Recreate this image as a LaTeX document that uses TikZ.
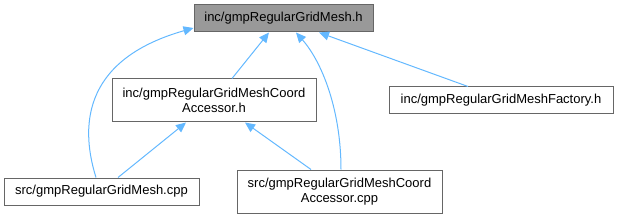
\documentclass[tikz,border=0pt]{standalone}
\usepackage{fontspec}
\setmainfont{Liberation Sans}
\usetikzlibrary{arrows.meta}
\definecolor{edgeblue}{HTML}{63B8FF}
\definecolor{boxgray}{HTML}{666666}
\definecolor{topfill}{HTML}{999999}
\tikzset{
  box/.style={draw=boxgray, line width=1pt, fill=white, inner sep=0pt, align=center,
    font=\fontsize{13}{15}\selectfont, text=black},
  edge/.style={draw=edgeblue, line width=1pt, {Triangle[length=10pt,width=9pt,fill=edgeblue]}-}
}
\begin{document}
\begin{tikzpicture}[x=1pt,y=-1pt]
\useasboundingbox (0,0) rectangle (618,219);
\node[box, fill=topfill, minimum width=179pt, minimum height=27pt] (top) at (283.5,18.5) {inc/gmpRegularGridMesh.h};
\node[box, minimum width=204pt, minimum height=43pt] (coord) at (214,100.5) {inc/gmpRegularGridMeshCoord\\Accessor.h};
\node[box, minimum width=224pt, minimum height=27pt] (fact) at (501,100.5) {inc/gmpRegularGridMeshFactory.h};
\node[box, minimum width=195pt, minimum height=27pt] (mesh) at (101.5,191.5) {src/gmpRegularGridMesh.cpp};
\node[box, minimum width=205pt, minimum height=43pt] (acc) at (339.5,191.5) {src/gmpRegularGridMeshCoord\\Accessor.cpp};
\draw[edge] ([xshift=-14.5pt]top.south) -- ([xshift=18pt]coord.north);
\draw[edge] ([xshift=35.5pt]top.south) -- ([xshift=-33pt]fact.north);
\draw[edge] ([xshift=12.5pt]top.south) .. controls (322,62) and (341,110) .. ([xshift=1.5pt]acc.north);
\draw[edge] ([yshift=-9.5pt]top.west) .. controls (88,58) and (78,120) .. ([xshift=-5.5pt]mesh.north);
\draw[edge] ([xshift=-28pt]coord.south) -- ([xshift=16.5pt]mesh.north);
\draw[edge] ([xshift=31pt]coord.south) -- ([xshift=-28.5pt]acc.north);
\end{tikzpicture}
\end{document}
